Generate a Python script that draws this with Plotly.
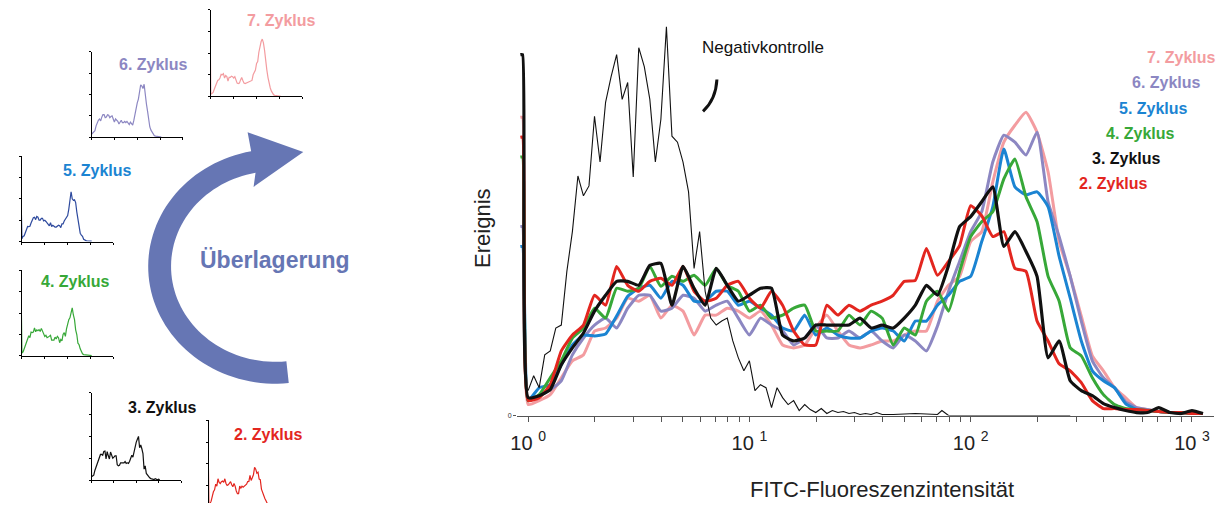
import numpy as np
import plotly.graph_objects as go

W, H = 1224, 506

# ---------------- data ----------------
# channel grid (log10 of FITC intensity); two first channels hold the off-scale first bin
LOG_CH = [-0.035, -0.025] + [round(0.05 * i, 2) for i in range(62)]
FITC = [10 ** v for v in LOG_CH]

Z2 = [280, 280,
      15, 18, 31, 65, 81, 91, 121, 111, 150, 131, 125, 135, 138, 131, 150,
      125, 115, 118, 131, 135, 118, 108, 125, 111, 85, 71, 71, 111, 101, 111, 105, 111,
      115, 121, 135, 136, 168, 141, 155, 171, 211, 201, 180, 185, 148, 145, 95, 75,
      52, 45, 33, 15, 7, 7, 6, 6, 5, 4, 3, 3, 2, 2]
Z3 = [363, 363,
      18, 20, 26, 51, 68, 83, 105, 121, 135, 135, 131, 151, 153, 111, 150,
      128, 111, 148, 131, 115, 121, 128, 128, 81, 75, 78, 91, 91, 91, 91, 98, 88,
      91, 88, 98, 111, 131, 121, 151, 190, 200, 215, 230, 170, 185, 165, 140, 58,
      75, 35, 25, 20, 12, 8, 5, 3, 3, 8, 3, 2, 5, 2]
Z4 = [260, 260,
      15, 21, 38, 55, 78, 88, 108, 98, 128, 125, 128, 150, 130, 140, 135,
      141, 131, 148, 131, 125, 105, 111, 98, 101, 108, 111, 85, 85, 85, 101, 91, 105,
      98, 71, 88, 81, 115, 125, 105, 145, 180, 195, 205, 238, 258, 220, 195, 140,
      115, 68, 60, 38, 21, 11, 7, 6, 5, 4, 3, 3, 2, 2]
Z5 = [170, 170,
      15, 28, 31, 51, 71, 81, 80, 82, 100, 120, 128, 131, 118, 135, 131,
      115, 115, 125, 125, 111, 115, 108, 101, 88, 85, 101, 81, 88, 81, 78, 78, 85,
      88, 85, 75, 95, 95, 111, 121, 135, 140, 175, 210, 268, 230, 222, 225, 210,
      160, 118, 75, 45, 35, 28, 12, 6, 5, 4, 3, 3, 2, 2]
Z6 = [190, 190,
      15, 20, 26, 35, 61, 78, 91, 98, 88, 108, 121, 121, 105, 108, 121,
      118, 105, 111, 115, 98, 81, 98, 91, 85, 71, 78, 91, 78, 78, 85, 78, 85,
      75, 68, 81, 75, 65, 90, 125, 155, 185, 205, 255, 282, 275, 262, 285, 215,
      180, 140, 95, 55, 38, 28, 14, 8, 6, 4, 3, 3, 2, 2]
Z7 = [300, 300,
      11, 15, 21, 38, 55, 61, 85, 88, 98, 118, 115, 121, 98, 111, 105,
      81, 101, 101, 108, 105, 98, 105, 91, 71, 68, 71, 88, 101, 85, 71, 68, 71,
      75, 75, 81, 85, 85, 115, 131, 140, 175, 185, 235, 275, 292, 305, 285, 245,
      175, 140, 100, 60, 45, 28, 18, 8, 6, 4, 3, 3, 2, 2]

NEG_LOG = [round(0.025 * i, 3) for i in range(67)] + [1.75, 1.85, 1.87, 1.9, 2.2, 2.45]
NEG_X = [10 ** v for v in NEG_LOG]
NEG = [25, 40, 28, 61, 65, 88, 91, 145, 185, 241, 221, 231, 301, 255, 315, 341, 363,
       318, 335, 240, 370, 351, 318, 255, 298, 391, 281, 275, 255, 225, 148, 185, 125,
       98, 91, 95, 98, 75, 58, 45, 55, 25, 31, 28, 8, 28, 18, 11, 15, 5, 11, 6, 3, 7,
       2, 5, 3, 4, 2, 3, 1, 2, 1, 3, 1, 1, 1,
       2, 1, 5, 0, 0, 0]

DECADES = [1, 10, 100, 1000]
DECADE_LABELS = ["10 <sup>0</sup>", "10 <sup>1</sup>", "10 <sup>2</sup>", "10 <sup>3</sup>"]
MINOR_TICKS = [m * 10 ** d for d in range(3) for m in range(2, 10)]

RED, BLACK, GREEN, BLUE, PURPLE, PINK = "#e3261f", "#111111", "#37a838", "#1b84d2", "#8c87c2", "#f39ca0"
ARROW = "#6676b4"
FONT = "Liberation Sans, Arial, sans-serif"


def px(x, y):
    return f"{x / W:.5f},{1 - y / H:.5f}"


fig = go.Figure()

# ---------------- main overlay ----------------
for name, ys, col, wd in [("7. Zyklus", Z7, PINK, 3), ("6. Zyklus", Z6, PURPLE, 3),
                          ("5. Zyklus", Z5, BLUE, 3), ("4. Zyklus", Z4, GREEN, 3),
                          ("2. Zyklus", Z2, RED, 3), ("3. Zyklus", Z3, BLACK, 3.2)]:
    fig.add_trace(go.Scatter(x=FITC, y=ys, mode="lines", name=name, showlegend=False,
                             line=dict(color=col, width=wd, shape="spline", smoothing=0.45),
                             xaxis="x", yaxis="y", hoverinfo="skip"))
fig.add_trace(go.Scatter(x=NEG_X, y=NEG, mode="lines", name="Negativkontrolle", showlegend=False,
                         line=dict(color="#111111", width=1.1), xaxis="x", yaxis="y",
                         hoverinfo="skip"))

layout = dict(
    width=W, height=H, margin=dict(l=0, r=0, t=0, b=0),
    paper_bgcolor="white", plot_bgcolor="rgba(0,0,0,0)", showlegend=False,
    font=dict(family=FONT, color="#222"),
    xaxis=dict(type="log", range=[-0.05, 3.1], domain=[513 / W, 1214 / W], anchor="y",
               showline=True, linecolor="#555", linewidth=1, ticks="outside", ticklen=5,
               tickcolor="#555", tickvals=DECADES, ticktext=DECADE_LABELS,
               tickfont=dict(size=20, color="#222", family=FONT), ticklabelstandoff=4,
               minor=dict(tickvals=MINOR_TICKS, ticks="outside", ticklen=5, tickcolor="#555",
                          showgrid=False),
               showgrid=False, zeroline=False),
    yaxis=dict(range=[0, 400], domain=[88 / H, 488 / H], anchor="x", showline=False,
               showgrid=False, zeroline=False, tickvals=[0], ticktext=["0"], ticks="outside",
               ticklen=3, tickcolor="#555", tickfont=dict(size=7, color="#333")),
)

# ---------------- thumbnails ----------------
THUMBS = [
    ("6. Zyklus", Z6, PURPLE, PURPLE, (85, 177), (52, 138), (147, 65)),
    ("7. Zyklus", Z7, PINK, PINK, (205, 297), (10, 97), (276, 21)),
    ("5. Zyklus", Z5, "#2e4a9e", BLUE, (15, 107), (157, 243), (91, 172)),
    ("4. Zyklus", Z4, GREEN, GREEN, (15, 107), (272, 358), (69, 283)),
    ("3. Zyklus", Z3, BLACK, BLACK, (85, 175), (395, 483), (156, 410)),
    ("2. Zyklus", Z2, RED, RED, (203, 295), (423, 510), (263, 437)),
]
YMAX = 460
annotations = []
for k, (name, ys, lcol, tcol, (x0, x1), (yt, yb), (lx, ly)) in enumerate(THUMBS, start=2):
    ymin = 0
    clipped = yb > H
    if clipped:
        ymin = YMAX * (yb - H) / (yb - yt)
        yb = H
    fig.add_trace(go.Scatter(x=FITC, y=ys, mode="lines", showlegend=False,
                             line=dict(color=lcol, width=1.2),
                             xaxis=f"x{k}", yaxis=f"y{k}", hoverinfo="skip"))
    layout[f"xaxis{k}"] = dict(type="log", range=[0, 4], domain=[x0 / W, x1 / W], anchor=f"y{k}",
                               showline=not clipped, linecolor="#000", linewidth=1,
                               ticks="" if clipped else "outside", ticklen=2, tickcolor="#000",
                               tickvals=[1, 10, 100, 1000, 10000], showticklabels=False,
                               showgrid=False, zeroline=False)
    layout[f"yaxis{k}"] = dict(range=[ymin, YMAX], domain=[1 - yb / H, 1 - yt / H], anchor=f"x{k}",
                               showline=True, linecolor="#000", linewidth=1, ticks="outside",
                               ticklen=2, tickcolor="#000", tickvals=[0, 115, 230, 345, 460],
                               showticklabels=False, showgrid=False, zeroline=False)
    annotations.append(dict(x=lx / W, y=1 - ly / H, xref="paper", yref="paper", text=f"<b>{name}</b>",
                            showarrow=False, xanchor="center", yanchor="middle",
                            font=dict(size=16, color=tcol, family=FONT)))

# main labels
for name, col, rx, cy in [("7. Zyklus", PINK, 1218, 58), ("6. Zyklus", PURPLE, 1203, 83),
                          ("5. Zyklus", BLUE, 1190, 109), ("4. Zyklus", GREEN, 1177, 134),
                          ("3. Zyklus", BLACK, 1163, 159), ("2. Zyklus", RED, 1150, 185)]:
    annotations.append(dict(x=rx / W, y=1 - cy / H, xref="paper", yref="paper", text=f"<b>{name}</b>",
                            showarrow=False, xanchor="right", yanchor="middle",
                            font=dict(size=16, color=col, family=FONT)))

annotations += [
    dict(x=697 / W, y=1 - 48 / H, xref="paper", yref="paper", text="Negativkontrolle", showarrow=False,
         xanchor="left", yanchor="middle", font=dict(size=17, color="#111", family=FONT)),
    dict(x=880 / W, y=1 - 492 / H, xref="paper", yref="paper", text="FITC-Fluoreszenzintensität",
         showarrow=False, xanchor="center", yanchor="middle", font=dict(size=22, color="#222", family=FONT)),
    dict(x=478 / W, y=1 - 230 / H, xref="paper", yref="paper", text="Ereignis", textangle=-90,
         showarrow=False, xanchor="center", yanchor="middle", font=dict(size=22, color="#222", family=FONT)),
    dict(x=270 / W, y=1 - 262 / H, xref="paper", yref="paper", text="<b>Überlagerung</b>",
         showarrow=False, xanchor="center", yanchor="middle", font=dict(size=23, color=ARROW, family=FONT)),
]
layout["annotations"] = annotations

# ---------------- decorative shapes ----------------
cx, cy = 270, 268
ro, ri = (128, 118), (105, 96)
ts = np.radians(np.linspace(84, 259, 70))
outer = [(cx + ro[0] * np.cos(t), cy + ro[1] * np.sin(t)) for t in ts]
inner = [(cx + ri[0] * np.cos(t), cy + ri[1] * np.sin(t)) for t in ts][::-1]
pts = outer + [(242, 133), (298, 153), (248, 188)] + inner
arrow_path = "M " + " L ".join(px(x, y) for x, y in pts) + " Z"

layout["shapes"] = [
    dict(type="path", xref="paper", yref="paper", path=arrow_path, fillcolor=ARROW,
         line=dict(width=0), layer="below"),
    dict(type="path", xref="paper", yref="paper",
         path=f"M {px(700, 112)} Q {px(713, 100)} {px(714, 80)}",
         line=dict(color="#111", width=3)),
]

fig.update_layout(**layout)
fig.write_html("out.html", config={"displayModeBar": False},
               post_script="document.body.style.margin='0';")
